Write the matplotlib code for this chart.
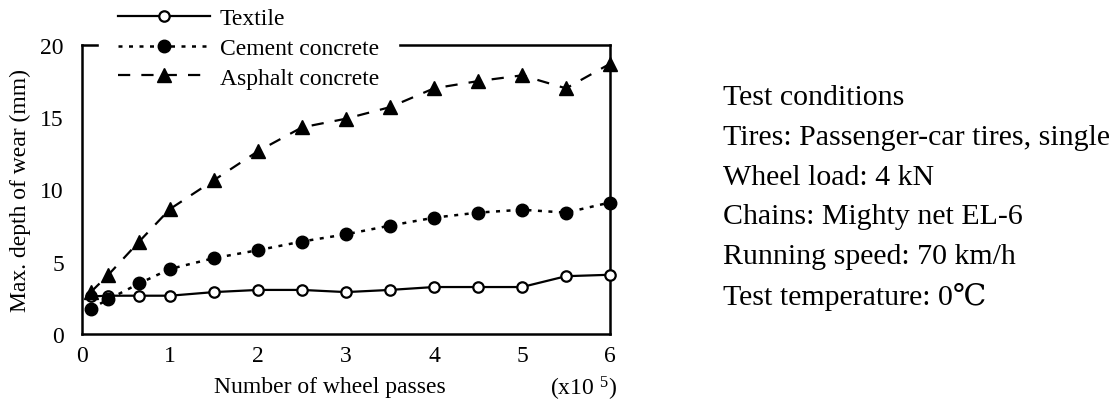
import matplotlib
matplotlib.use("Agg")
import matplotlib.pyplot as plt

plt.rcParams['font.family'] = ['Liberation Serif', 'DejaVu Serif', 'DejaVu Sans', 'Noto Sans CJK JP']
plt.rcParams['mathtext.default'] = 'regular'

passes = [0.1, 0.3, 0.65, 1.0, 1.5, 2.0, 2.5, 3.0, 3.5, 4.0, 4.5, 5.0, 5.5, 6.0]
textile = [2.6, 2.65, 2.65, 2.65, 2.9, 3.05, 3.05, 2.9, 3.05, 3.25, 3.25, 3.25, 4.0, 4.1]
cement = [1.75, 2.4, 3.5, 4.5, 5.25, 5.8, 6.4, 6.9, 7.5, 8.05, 8.4, 8.6, 8.4, 9.1]
asphalt = [2.9, 4.1, 6.4, 8.65, 10.65, 12.65, 14.3, 14.9, 15.7, 17.0, 17.5, 17.9, 17.0, 18.7]

series_labels = ['Textile', 'Cement concrete', 'Asphalt concrete']
x_ticks = [0, 1, 2, 3, 4, 5, 6]
y_ticks = [0, 5, 10, 15, 20]
conditions = ['Test conditions',
              'Tires: Passenger-car tires, single',
              'Wheel load: 4 kN',
              'Chains: Mighty net EL-6',
              'Running speed: 70 km/h',
              'Test temperature: 0\u2103']

W, H = 1120, 410
FS = 17
fig = plt.figure(figsize=(W / 100, H / 100), dpi=100)
ax = fig.add_axes([82 / W, 1 - 335 / H, (610 - 82) / W, (335 - 46) / H])

ax.plot(passes, textile, color='black', lw=1.6, ls='-', marker='o', ms=7.5,
        mfc='white', mec='black', mew=1.6, label=series_labels[0], clip_on=False, zorder=3)
ax.plot(passes, cement, color='black', lw=1.8, ls=(0, (1.6, 2.6)), marker='o', ms=9,
        mfc='black', mec='black', label=series_labels[1], clip_on=False, zorder=3)
ax.plot(passes, asphalt, color='black', lw=1.6, ls=(0, (5.5, 5)), marker='^', ms=9.5,
        mfc='black', mec='black', label=series_labels[2], clip_on=False, zorder=3)

ax.set_xlim(0, 6)
ax.set_ylim(0, 20)
ax.set_xticks(x_ticks)
ax.set_yticks(y_ticks)
ax.tick_params(length=0, labelsize=FS)
ax.tick_params(axis='x', pad=8)
ax.tick_params(axis='y', pad=13)
for s in ax.spines.values():
    s.set_linewidth(1.8)
    s.set_color('black')

ax.set_ylabel('Max. depth of wear (mm)', fontsize=FS, labelpad=7)
fig.text(330 / W, 1 - 388 / H, 'Number of wheel passes', fontsize=FS, ha='center', va='center')
fig.text(584 / W, 1 - 389 / H, '(x10 $^{5}$)', fontsize=FS, ha='center', va='center')

leg = ax.legend(loc='upper left', bbox_to_anchor=(99 / W, 1 + 10 / H), bbox_transform=fig.transFigure,
                fontsize=FS, handlelength=3.9, labelspacing=0.34, borderpad=0.8,
                handletextpad=0.42, frameon=True, fancybox=False, borderaxespad=0)
leg.get_frame().set_facecolor('white')
leg.get_frame().set_edgecolor('white')
leg.get_frame().set_alpha(1)
leg.set_zorder(2.8)

for i, line in enumerate(conditions):
    fig.text(723 / W, 1 - (98 + i * 39.8) / H, line, fontsize=21.5, ha='left', va='center')

fig.savefig('out.png', dpi=100)
